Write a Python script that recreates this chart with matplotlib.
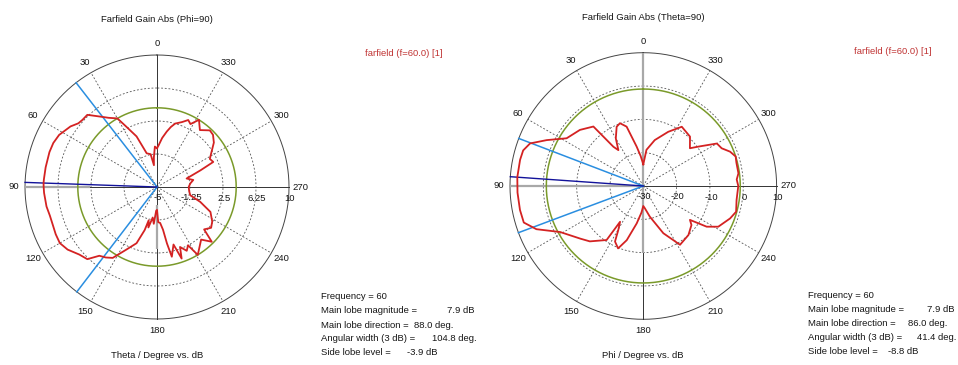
import numpy as np
import matplotlib
matplotlib.use("Agg")
import matplotlib.pyplot as plt
from matplotlib.transforms import offset_copy

plt.rcParams['font.family'] = ['Liberation Sans', 'DejaVu Sans']
FS = 6.8
TXT = '#161616'

# ---- Cut 1: Phi = 90 (gain in dB versus theta) ----
cut1_theta = [0, 3, 6, 8, 11, 17, 22, 27, 30, 35, 39, 44, 48, 51, 55, 62, 67, 72,
              80, 86, 88, 90, 93, 100, 105, 110, 115, 120, 125, 131, 136, 140, 144,
              148, 154, 160, 164, 166, 168, 172, 175, 178, 180, 182, 185, 188, 190,
              192, 196, 199, 201, 205, 208, 211, 215, 220, 225, 228, 233, 238, 245,
              251, 256, 262, 270, 276, 281, 286, 291, 294, 298, 303, 308, 313, 317,
              323, 328, 332, 335, 339, 344, 347, 350, 354, 358, 360]
cut1_gain = [-0.6, -0.4, -1.6, -2.5, -1.2, -1.0, 1.2, 2.7, 4.0, 4.6, 5.3, 6.4, 6.4,
             6.5, 7.0, 7.6, 7.8, 7.85, 7.85, 7.88, 7.9, 7.88, 7.85, 7.75, 7.6, 7.6,
             7.7, 7.75, 7.4, 6.7, 6.4, 5.2, 4.9, 4.5, 2.9, 1.8, 0.1, -1.1, -0.3, -1.5,
             -0.8, -2.3, -2.4, -1.0, -0.9, -0.1, 1.5, 3.1, 1.8, 3.6, 2.3, 3.0, 2.5,
             4.0, 3.4, 2.8, 3.8, 2.2, 2.7, 2.4, 1.7, 0.2, -1.1, -1.3, -1.4, -1.2,
             -0.8, -1.5, 0.3, 2.0, 1.8, 2.4, 3.2, 3.7, 3.8, 3.1, 4.0, 3.1, 3.4, 2.9,
             2.5, 2.0, 1.4, 0.6, -0.3, -0.6]
cut1_rings = [-5, -1.25, 2.5, 6.25, 10]
cut1_ring_labels = ['-5', '-1.25', '2.5', '6.25', '10']
cut1_main_dir = 88.0
cut1_main_mag = 7.9
cut1_width = 104.8
cut1_edges = [37.8, 142.6]
cut1_sidelobe = -3.9

# ---- Cut 2: Theta = 90 (gain in dB versus phi) ----
cut2_phi = [0, 5, 9.6, 15.7, 20.4, 24.2, 30, 34.8, 37.3, 40, 48.5, 58.1, 64.6, 69.4,
            73.5, 78, 86, 93, 101, 107, 112, 119, 130, 136, 145.8, 147, 150.4, 153,
            158, 163, 170, 176, 180, 184, 192, 203, 212, 222.6, 231, 234, 237.3,
            241.5, 249.5, 254.5, 261.5, 270, 274, 277.6, 284, 287.7, 291.6, 295.7,
            300, 305.6, 309, 316.6, 327, 335.3, 346, 355, 360]
cut2_gain = [-23.5, -21.0, -18.0, -11.5, -9.9, -10.5, -13.5, -16.9, -15.2, -6.7,
             -4.6, -2.9, 2.1, 6.3, 7.6, 7.8, 7.9, 7.8, 7.7, 7.5, 4.6, -1.5, -5.4,
             -6.9, -10.4, -17.2, -14.8, -11.3, -9.8, -13.0, -18.6, -22.0, -24.0,
             -23.3, -20.6, -14.6, -9.2, -10.0, -11.4, -12.7, -7.4, -4.4, -2.2, -1.1,
             -1.7, -1.5, -1.9, -1.2, -1.2, -0.9, -2.0, -3.9, -4.5, -9.7, -12.0,
             -9.6, -8.8, -12.1, -15.8, -19.1, -23.5]
cut2_rings = [-30, -20, -10, 0, 10]
cut2_ring_labels = ['-30', '-20', '-10', '0', '10']
cut2_main_dir = 86.0
cut2_main_mag = 7.9
cut2_width = 41.4
cut2_edges = [69.1, 110.5]
cut2_sidelobe = -8.8

angle_ticks = list(range(0, 360, 30))
frequency = 60

RED = '#d42222'
GREEN = '#7a9a2a'
LBLUE = '#2a8ee0'
NAVY = '#12129a'
GRID = '#555555'
GREY = '#a8a8a8'

fig = plt.figure(figsize=(9.58, 3.65), dpi=100)


def draw_cut(rect, ang, gain, rings, ring_labels, main_dir, main_mag, edges,
             sidelobe, grey_segments):
    ax = fig.add_axes(rect, projection='polar')
    ax.set_theta_zero_location('N')
    ax.set_theta_direction(1)
    rmin, rmax = rings[0], rings[-1]
    ax.set_ylim(rmin, rmax)
    ax.set_axis_off()

    full = np.linspace(0, 2 * np.pi, 721)
    # rings
    for r in rings[1:-1]:
        ax.plot(full, np.full_like(full, r), color=GRID, lw=0.6,
                dashes=(2.2, 2.2), zorder=1)
    ax.plot(full, np.full_like(full, rmax), color='#444444', lw=0.7, zorder=2,
            clip_on=False)
    # spokes
    for a in angle_ticks:
        t = np.deg2rad(a)
        if a % 90 == 0:
            ax.plot([t, t], [rmin, rmax], color='#333333', lw=0.7, zorder=2,
                    clip_on=False)
        else:
            ax.plot([t, t], [rmin, rmax], color=GRID, lw=0.6, dashes=(2.2, 2.2),
                    zorder=1)
    for a, r0, r1 in grey_segments:
        t = np.deg2rad(a)
        ax.plot([t, t], [r0, r1], color=GREY, lw=1.6, zorder=3,
                solid_capstyle='butt', clip_on=False)

    # side lobe reference circle
    ax.plot(full, np.full_like(full, main_mag + sidelobe), color=GREEN, lw=1.1,
            zorder=4)
    # beam edges and main lobe direction
    for e in edges:
        t = np.deg2rad(e)
        ax.plot([t, t], [rmin, rmax], color=LBLUE, lw=1.1, zorder=5, clip_on=False)
    t = np.deg2rad(main_dir)
    ax.plot([t, t], [rmin, rmax], color=NAVY, lw=1.0, zorder=5, clip_on=False)

    # pattern
    ax.plot(np.deg2rad(ang), gain, color=RED, lw=1.3, zorder=6, clip_on=False)

    # angle labels
    for a in angle_ticks:
        t = np.deg2rad(a)
        d = 11.5
        tr = offset_copy(ax.transData, fig=fig, x=-d * np.sin(t), y=d * np.cos(t),
                         units='dots')
        ax.text(t, rmax, str(a), transform=tr, ha='center', va='center',
                fontsize=FS, color=TXT, clip_on=False)
    # radial labels along the 270 direction
    tr = offset_copy(ax.transData, fig=fig, x=1, y=-11, units='dots')
    for r, lab in zip(rings, ring_labels):
        ax.text(np.deg2rad(270), r, lab, transform=tr, ha='center', va='center',
                fontsize=FS, color=TXT, clip_on=False)
    return ax


W, H = 958.0, 365.0


def rect_for(cx, cy, R):
    return [(cx - R) / W, (H - cy - R) / H, 2 * R / W, 2 * R / H]


draw_cut(rect_for(157, 187, 132), cut1_theta, cut1_gain, cut1_rings,
         cut1_ring_labels, cut1_main_dir, cut1_main_mag, cut1_edges,
         cut1_sidelobe, [(90, 2.6, 10), (180, -3.0, 2.0)])
draw_cut(rect_for(643.3, 186, 133.3), cut2_phi, cut2_gain, cut2_rings,
         cut2_ring_labels, cut2_main_dir, cut2_main_mag, cut2_edges,
         cut2_sidelobe, [(0, -30, 10), (90, -30, 10), (180, -30, -10)])


def ftext(x, y, s, **kw):
    kw.setdefault('fontsize', FS)
    kw.setdefault('color', TXT)
    fig.text(x / W, 1 - y / H, s, va='center', **kw)


# titles, axis captions, legend entries
ftext(157, 20, 'Farfield Gain Abs (Phi=90)', ha='center')
ftext(643, 17, 'Farfield Gain Abs (Theta=90)', ha='center')
ftext(157, 356, 'Theta / Degree vs. dB', ha='center')
ftext(643, 356, 'Phi / Degree vs. dB', ha='center')
ftext(365, 53, 'farfield (f=60.0) [1]', ha='left', color='#c03434')
ftext(854, 51.5, 'farfield (f=60.0) [1]', ha='left', color='#c03434')


def info_block(x0, ys, vx, main_mag, main_dir, width, sidelobe):
    ftext(x0, ys[0], f'Frequency = {frequency}', ha='left')
    ftext(x0, ys[1], 'Main lobe magnitude =', ha='left')
    ftext(vx[0], ys[1], f'{main_mag:.1f} dB', ha='left')
    ftext(x0, ys[2], 'Main lobe direction =', ha='left')
    ftext(vx[1], ys[2], f'{main_dir:.1f} deg.', ha='left')
    ftext(x0, ys[3], 'Angular width (3 dB) =', ha='left')
    ftext(vx[2], ys[3], f'{width:.1f} deg.', ha='left')
    ftext(x0, ys[4], 'Side lobe level =', ha='left')
    ftext(vx[3], ys[4], f'{sidelobe:.1f} dB', ha='left')


info_block(321, [296.7, 310.7, 325, 338.5, 352.7], [446.7, 414, 431.7, 407.3],
           cut1_main_mag, cut1_main_dir, cut1_width, cut1_sidelobe)
info_block(807.7, [295, 309.3, 323.3, 337.5, 351.7], [926.7, 908.3, 916.7, 888.3],
           cut2_main_mag, cut2_main_dir, cut2_width, cut2_sidelobe)

fig.savefig('out.png', dpi=100, facecolor='white')
